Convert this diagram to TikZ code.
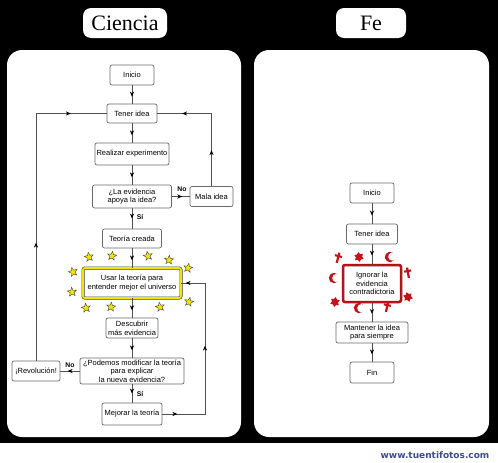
\documentclass[tikz,border=0pt]{standalone}
\usepackage{fontspec}
\setmainfont{Liberation Sans}
\newfontfamily\titlefont{Liberation Serif}
\newfontfamily\wmfont{DejaVu Sans}
\usetikzlibrary{shapes.geometric,decorations.markings,arrows.meta}

\definecolor{linegray}{HTML}{505050}
\definecolor{boxgray}{HTML}{6A6A6A}
\definecolor{staryellow}{HTML}{F2E600}
\definecolor{relred}{HTML}{C4121A}
\definecolor{wmblue}{HTML}{3A4E8C}

\tikzset{
  box/.style={draw=boxgray, line width=0.7pt, fill=white, rounded corners=2pt, align=center,
    inner sep=0pt, font=\fontsize{7.5}{8.7}\selectfont},
  conn/.style={draw=linegray, line width=0.7pt},
  arr/.style={conn, postaction={decorate}, decoration={markings,
    mark=at position #1 with {\arrow[black]{Stealth[length=5pt,width=4.2pt]}}}},
  arr/.default=0.62,
  lbl/.style={font=\fontsize{6.8}{8}\selectfont\bfseries, inner sep=0pt},
  ystar/.style={star, star points=5, star point ratio=2.3, minimum size=9.5pt, inner sep=0pt,
    fill=staryellow, draw=black!75, line width=0.4pt},
  dstar/.style={star, star points=6, star point ratio=1.6, minimum size=10pt, inner sep=0pt,
    fill=relred, draw=none},
  titlebox/.style={fill=white, rounded corners=8pt, minimum height=30pt, inner sep=0pt,
    font=\titlefont\fontsize{22}{24}\selectfont},
  pics/relcross/.style={code={
    \fill[relred] (-1.1,-5.5) rectangle (1.1,5);
    \fill[relred] (-3.6,-3) rectangle (3.6,-0.9);}},
  pics/crescent/.style={code={
    \fill[relred] (0,0) circle (5.2);
    \fill[white] (2.3,0) circle (4.1);}}
}

\begin{document}
\begin{tikzpicture}[x=1pt,y=-1pt]
\useasboundingbox (0,0) rectangle (498,463);
\fill[white] (0,0) rectangle (498,463);
\fill[black] (0,0) rectangle (498,443);

% panels
\fill[white, rounded corners=15pt] (7,50) rectangle (241,437);
\fill[white, rounded corners=15pt] (254,50) rectangle (489,437);

% titles
\node[titlebox, minimum width=84pt] (tCiencia) at (125,23) {Ciencia};
\node[titlebox, minimum width=70pt] (tFe) at (371,23) {Fe};

% ---- Ciencia ----
\node[box, minimum width=44pt, minimum height=20pt] (iniL) at (132,75) {Inicio};
\node[box, minimum width=50pt, minimum height=19pt] (tenL) at (132,113.5) {Tener idea};
\node[box, minimum width=74pt, minimum height=22pt] (real) at (132,154) {Realizar experimento};
\node[box, minimum width=79pt, minimum height=23pt] (evid) at (132,196.5) {¿La evidencia\\apoya la idea?};
\node[box, minimum width=43pt, minimum height=20pt] (mala) at (211.5,196.5) {Mala idea};
\node[box, minimum width=59pt, minimum height=19pt] (teo) at (132,238.5) {Teoría creada};
\node[box, minimum width=98pt, minimum height=30pt, draw=black!75, line width=0.6pt,
      double=staryellow, double distance=1.8pt] (usar) at (132,283) {Usar la teoría para\\entender mejor el universo};
\node[box, minimum width=52pt, minimum height=20pt] (desc) at (132,328) {Descubrir\\más evidencia};
\node[box, minimum width=104pt, minimum height=26pt] (pod) at (132,371) {¿Podemos modificar la teoría\\para explicar\\la nueva evidencia?};
\node[box, minimum width=48pt, minimum height=20pt] (rev) at (36,371) {¡Revolución!};
\node[box, minimum width=60pt, minimum height=22pt] (mej) at (132,414) {Mejorar la teoría};

\coordinate (cRevTop) at (36,113.5);
\coordinate (cMalaTop) at (211.5,113.5);
\coordinate (cMejR) at (205,414);
\coordinate (cMejTop) at (205,283);

\draw[arr] (iniL) -- (tenL);
\draw[arr] (tenL) -- (real);
\draw[arr] (real) -- (evid);
\draw[arr=0.58] (evid) -- (mala);
\draw[arr=0.5] (evid) -- (teo);
\draw[arr] (teo) -- (usar);
\draw[arr] (usar) -- (desc);
\draw[arr] (desc) -- (pod);
\draw[arr=0.5] (pod) -- (mej);
\draw[arr=0.62] (pod) -- (rev);

\draw[conn, postaction={decorate}, decoration={markings,
   mark=at position 118pt with {\arrow[black]{Stealth[length=5pt,width=4.2pt]}},
   mark=at position 282pt with {\arrow[black]{Stealth[length=5pt,width=4.2pt]}}}]
   (rev) -- (cRevTop) -- (tenL);
\draw[conn, postaction={decorate}, decoration={markings,
   mark=at position 36pt with {\arrow[black]{Stealth[length=5pt,width=4.2pt]}},
   mark=at position 102pt with {\arrow[black]{Stealth[length=5pt,width=4.2pt]}}}]
   (mala) -- (cMalaTop) -- (tenL);
\draw[conn, postaction={decorate}, decoration={markings,
   mark=at position 15pt with {\arrow[black]{Stealth[length=5pt,width=4.2pt]}},
   mark=at position 111pt with {\arrow[black]{Stealth[length=5pt,width=4.2pt]}},
   mark=at position 193pt with {\arrow[black]{Stealth[length=5pt,width=4.2pt]}}}]
   (mej) -- (cMejR) -- (cMejTop) -- (usar);

\node[lbl] (lNo1) at (182,189) {No};
\node[lbl] (lSi1) at (140,217) {Sí};
\node[lbl] (lNo2) at (70,365) {No};
\node[lbl] (lSi2) at (140,394) {Sí};

% stars
\node[ystar, rotate=10] (s1) at (89,257) {};
\node[ystar, rotate=-8] (s2) at (112,256) {};
\node[ystar, rotate=12] (s3) at (148,256) {};
\node[ystar, rotate=-5] (s4) at (169,260) {};
\node[ystar, rotate=15] (s5) at (73,272) {};
\node[ystar, rotate=-10] (s6) at (188,268) {};
\node[ystar, rotate=5] (s7) at (72,292) {};
\node[ystar, rotate=-12] (s8) at (189,302) {};
\node[ystar, rotate=8] (s9) at (86,308) {};
\node[ystar, rotate=-6] (s10) at (111,307) {};
\node[ystar, rotate=10] (s11) at (160,307) {};

% ---- Fe ----
\node[box, minimum width=44pt, minimum height=20pt] (iniR) at (372,193) {Inicio};
\node[box, minimum width=51pt, minimum height=20pt] (tenR) at (372,234) {Tener idea};
\node[box, minimum width=58pt, minimum height=37pt, draw=relred!70!black, line width=0.5pt,
      double=relred, double distance=1.5pt] (ign) at (372,283.5) {Ignorar la\\evidencia\\contradictoria};
\node[box, minimum width=72pt, minimum height=21pt] (mant) at (372,332.5) {Mantener la idea\\para siempre};
\node[box, minimum width=44pt, minimum height=21pt] (fin) at (372,372.5) {Fin};

\draw[arr=0.6] (iniR) -- (tenR);
\draw[arr=0.55] (tenR) -- (ign);
\draw[arr=0.6] (ign) -- (mant);
\draw[arr=0.6] (mant) -- (fin);

\pic[rotate=-15] at (338,258) {relcross};
\node[dstar, rotate=8] (d1) at (359,257) {};
\pic[rotate=10] at (390,257) {crescent};
\pic[rotate=0] at (334,278) {crescent};
\pic[rotate=10] at (408,273) {relcross};
\node[dstar, rotate=-10] (d2) at (335,302) {};
\pic[rotate=-5] at (359,308) {crescent};
\pic[rotate=-12] at (387,307) {relcross};
\node[dstar, rotate=15] (d3) at (408,297) {};

% watermark
\node[font=\wmfont\fontsize{9}{10}\selectfont\bfseries, text=wmblue, inner sep=0pt] (wm) at (435,455) {www.tuentifotos.com};
\end{tikzpicture}
\end{document}
